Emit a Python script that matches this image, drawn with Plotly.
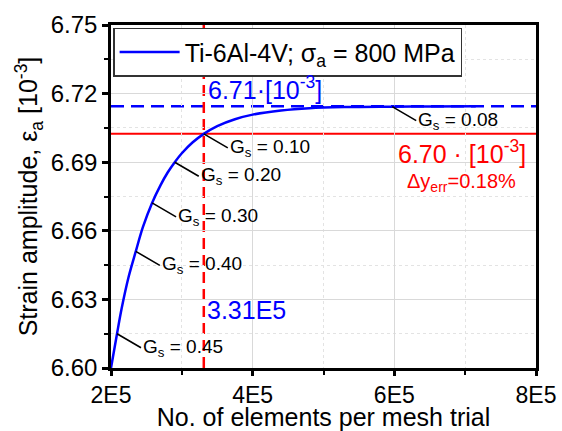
import plotly.graph_objects as go

# ---- data ----
elements = [2.00e5, 2.085e5, 2.15e5, 2.25e5, 2.35e5, 2.45e5, 2.58e5, 2.70e5, 2.80e5,
            2.90e5, 3.00e5, 3.15e5, 3.31e5, 3.50e5, 3.75e5, 4.00e5, 4.40e5, 4.80e5,
            5.30e5, 5.97e5, 6.50e5, 7.15e5]
strain = [6.600, 6.615, 6.626, 6.640, 6.651, 6.6616, 6.6722, 6.680, 6.6855,
          6.690, 6.6939, 6.6986, 6.7024, 6.7058, 6.7088, 6.7108, 6.7126, 6.7136,
          6.7141, 6.7143, 6.7144, 6.7145]

gs_x = [2.085e5, 2.35e5, 2.58e5, 2.90e5, 3.31e5, 5.97e5]
gs_y = [6.615, 6.651, 6.6722, 6.690, 6.7024, 6.7143]
gs_labels = ["0.45", "0.40", "0.30", "0.20", "0.10", "0.08"]

x_crit = 3.31e5          # selected mesh
y_conv = 6.7145          # converged strain amplitude
y_acc = 6.7024           # accepted strain amplitude

x_ticks = [2e5, 4e5, 6e5, 8e5]
x_ticktext = ["2E5", "4E5", "6E5", "8E5"]
y_ticks = [6.60, 6.63, 6.66, 6.69, 6.72, 6.75]

FONT = "Liberation Sans, Arial, sans-serif"
BLUE = "#0000ff"
RED = "#ff0000"

fig = go.Figure()
fig.add_trace(go.Scatter(
    x=elements, y=strain, mode="lines",
    line=dict(color=BLUE, width=2.5, shape="spline"),
    name="Ti-6Al-4V; σ<sub>a</sub> = 800 MPa"))

# reference lines
fig.add_shape(type="line", xref="x domain", x0=0, x1=1, yref="y", y0=y_conv, y1=y_conv,
              line=dict(color=BLUE, width=2.5, dash="13px,7px"), layer="below")
fig.add_shape(type="line", xref="x domain", x0=0, x1=1, yref="y", y0=y_acc, y1=y_acc,
              line=dict(color=RED, width=2), layer="below")
fig.add_shape(type="line", xref="x", x0=x_crit, x1=x_crit, yref="y domain", y0=0, y1=1,
              line=dict(color=RED, width=2.5, dash="11px,6px"), layer="below")

# G_s labels
for gx, gy, lab in zip(gs_x, gs_y, gs_labels):
    fig.add_annotation(x=gx, y=gy, text=f"G<sub>s</sub> = {lab}", showarrow=True,
                       arrowhead=0, arrowwidth=1.6, arrowcolor="black",
                       ax=24, ay=14, xanchor="left", yanchor="middle",
                       font=dict(family=FONT, size=19, color="black"))

# value labels
fig.add_annotation(x=x_crit, y=y_conv, text=f"{y_conv:.2f}·[10<sup>-3</sup>]",
                   showarrow=False, xanchor="left", yanchor="bottom", xshift=2,
                   font=dict(family=FONT, size=25, color=BLUE))
fig.add_annotation(x=x_crit, y=6.6255, text=f"{x_crit/1e5:.2f}E5",
                   showarrow=False, xanchor="left", yanchor="middle", xshift=1,
                   font=dict(family=FONT, size=25, color=BLUE))
fig.add_annotation(xref="x domain", x=0.98, y=y_acc, text=f"{y_acc:.2f} · [10<sup>-3</sup>]",
                   showarrow=False, xanchor="right", yanchor="top",
                   font=dict(family=FONT, size=25, color=RED))
err = (y_conv - y_acc) / y_conv * 100
fig.add_annotation(xref="x domain", x=0.824, y=6.6813,
                   text=f"Δy<sub>err</sub>={err:.2f}%",
                   showarrow=False, xanchor="center", yanchor="middle",
                   font=dict(family=FONT, size=20, color=RED))

axis_common = dict(showline=True, linecolor="black", linewidth=2.5, mirror=True,
                   ticks="outside", tickwidth=2.5, tickcolor="black",
                   showgrid=True, gridcolor="#d9d9d9", gridwidth=1, zeroline=False,
                   automargin=False)

fig.update_xaxes(range=[2e5, 8e5], tickmode="array", tickvals=x_ticks, ticktext=x_ticktext,
                 ticklen=5, tickfont=dict(family=FONT, size=23, color="black"),
                 title=dict(text="No. of elements per mesh trial",
                            font=dict(family=FONT, size=25, color="black"), standoff=0),
                 minor=dict(dtick=1e5, tick0=2e5, ticks="outside", ticklen=4, tickwidth=2,
                            tickcolor="black", showgrid=True, gridcolor="#e3e3e3",
                            griddash="dot", gridwidth=1),
                 **axis_common)
fig.update_yaxes(range=[6.60, 6.75], tickmode="array", tickvals=y_ticks, tickformat=".2f",
                 ticklen=6, tickfont=dict(family=FONT, size=24, color="black"),
                 title=dict(text="Strain amplitude, ε<sub>a</sub> [10<sup>-3</sup>]",
                            font=dict(family=FONT, size=25, color="black"), standoff=6),
                 minor=dict(dtick=0.015, tick0=6.60, ticks="outside", ticklen=4, tickwidth=2,
                            tickcolor="black", showgrid=True, gridcolor="#e3e3e3",
                            griddash="dot", gridwidth=1),
                 **axis_common)

fig.update_layout(
    width=562, height=431,
    margin=dict(l=111, r=26, t=25, b=63),
    plot_bgcolor="white", paper_bgcolor="white",
    font=dict(family=FONT, color="black"),
    showlegend=True,
    legend=dict(x=0.005, y=0.992, xanchor="left", yanchor="top",
                bgcolor="white", bordercolor="#333333", borderwidth=1.5,
                font=dict(family=FONT, size=25, color="black"), itemwidth=60),
)

fig.write_html("out.html")
